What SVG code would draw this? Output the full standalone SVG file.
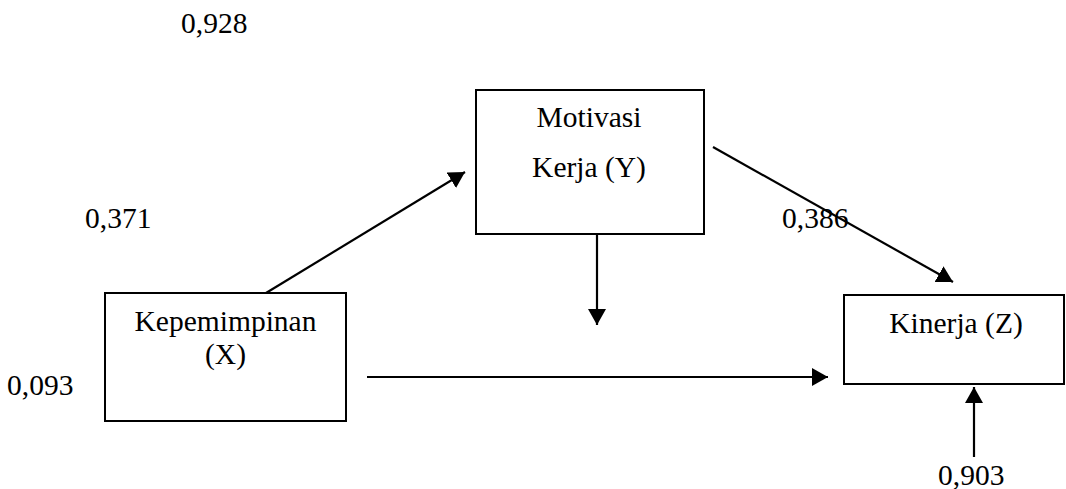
<svg xmlns="http://www.w3.org/2000/svg" width="1066" height="489" viewBox="0 0 1066 489">
<style>
.box{fill:#fff;stroke:#000;stroke-width:2}
.t{font-family:'Liberation Serif','Times New Roman','DejaVu Serif',serif;font-size:29.5px;fill:#000}
.c{text-anchor:middle}
.conn line{stroke:#000;stroke-width:2.2;marker-end:url(#ah)}
</style>
<defs>
<marker id="ah" markerUnits="userSpaceOnUse" markerWidth="17" markerHeight="18" refX="16" refY="9" orient="auto">
<path d="M0,0 L16,9 L0,18 z" fill="#000"/>
</marker>
</defs>
<rect width="1066" height="489" fill="#fff"/>
<g id="labels">
<text class="t" x="181" y="33">0,928</text>
<text class="t" x="85" y="228">0,371</text>
<text class="t" x="7" y="395">0,093</text>
<text class="t" x="782" y="228">0,386</text>
<text class="t" x="938" y="485">0,903</text>
</g>
<g id="nodeX">
<rect class="box" x="105" y="293" width="241" height="128"/>
<text class="t c" x="225.5" y="331">Kepemimpinan</text>
<text class="t c" x="225.5" y="364">(X)</text>
</g>
<g id="nodeY">
<rect class="box" x="476" y="90" width="228" height="144"/>
<text class="t c" x="589" y="127">Motivasi</text>
<text class="t c" x="589" y="177">Kerja (Y)</text>
</g>
<g id="nodeZ">
<rect class="box" x="844" y="295" width="220" height="89"/>
<text class="t c" x="956" y="333">Kinerja (Z)</text>
</g>
<g id="connectors" class="conn">
<line x1="266" y1="293" x2="465" y2="172"/>
<line x1="713" y1="147" x2="953" y2="282"/>
<line x1="597" y1="235" x2="597" y2="325"/>
<line x1="367" y1="377" x2="828" y2="377"/>
<line x1="974" y1="457" x2="974" y2="387"/>
</g>
</svg>
